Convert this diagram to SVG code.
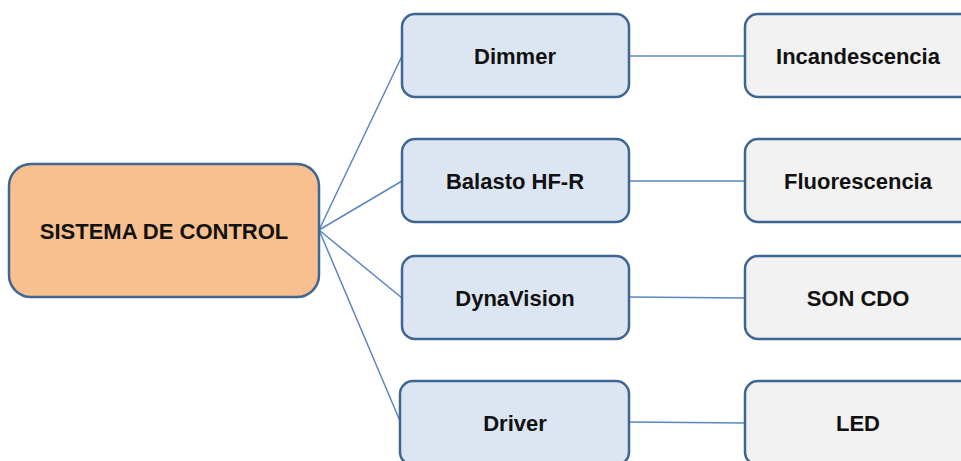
<svg xmlns="http://www.w3.org/2000/svg" width="961" height="461" viewBox="0 0 961 461">
<style>
.box{stroke:#3f6592;stroke-width:2.5}
.main{fill:#f9c08f}
.mid{fill:#dce6f2}
.leaf{fill:#f2f2f2}
.conn{stroke:#5b86bf;stroke-width:1.5;fill:none}
text{font-family:"Liberation Sans",Arial,sans-serif;font-weight:bold;font-size:22px;fill:#111;text-anchor:middle;dominant-baseline:central}
</style>
<rect width="961" height="461" fill="#fff"/>
<g id="connectors">
<line class="conn" x1="319" y1="230" x2="402" y2="56"/>
<line class="conn" x1="319" y1="230" x2="402" y2="181"/>
<line class="conn" x1="319" y1="230" x2="402" y2="298"/>
<line class="conn" x1="319" y1="230" x2="400" y2="421"/>
<line class="conn" x1="629" y1="56" x2="745" y2="56"/>
<line class="conn" x1="629" y1="181" x2="745" y2="181"/>
<line class="conn" x1="629" y1="297" x2="745" y2="298"/>
<line class="conn" x1="629" y1="422" x2="745" y2="423"/>
</g>
<g id="sistema"><rect class="box main" x="9" y="164" width="310" height="133" rx="22"/><text x="164" y="231">SISTEMA DE CONTROL</text></g>
<g id="dimmer"><rect class="box mid" x="402" y="14" width="227" height="83" rx="13"/><text x="515" y="56">Dimmer</text></g>
<g id="balasto"><rect class="box mid" x="402" y="139" width="227" height="83" rx="13"/><text x="515" y="181">Balasto HF-R</text></g>
<g id="dynavision"><rect class="box mid" x="402" y="256" width="227" height="83" rx="13"/><text x="515" y="298">DynaVision</text></g>
<g id="driver"><rect class="box mid" x="400" y="381" width="229" height="84" rx="13"/><text x="515" y="423">Driver</text></g>
<g id="incandescencia"><rect class="box leaf" x="745" y="14" width="240" height="83" rx="13"/><text x="858" y="56">Incandescencia</text></g>
<g id="fluorescencia"><rect class="box leaf" x="745" y="139" width="240" height="83" rx="13"/><text x="858" y="181">Fluorescencia</text></g>
<g id="son-cdo"><rect class="box leaf" x="745" y="256" width="240" height="83" rx="13"/><text x="858" y="298">SON CDO</text></g>
<g id="led"><rect class="box leaf" x="745" y="381" width="240" height="84" rx="13"/><text x="858" y="423">LED</text></g>
</svg>
